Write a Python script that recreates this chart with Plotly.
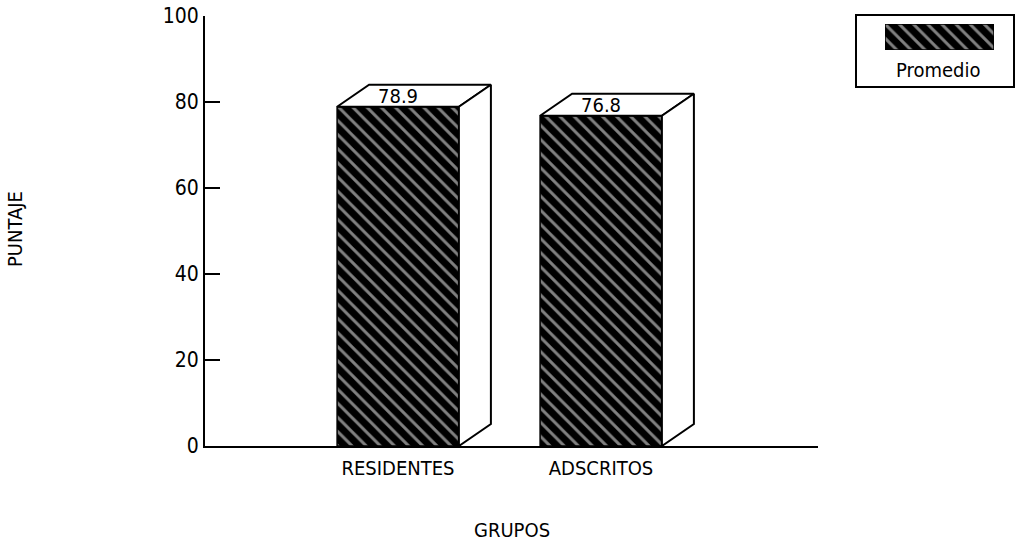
import plotly.graph_objects as go

# ---- data -------------------------------------------------------------
categories = ["RESIDENTES", "ADSCRITOS"]
promedio = [78.9, 76.8]
y_ticks = [0, 20, 40, 60, 80, 100]
series_name = "Promedio"

# ---- geometry (pixels of the 1026x542 page) ---------------------------
W, H = 1026, 542
plot_left, plot_right = 205, 818
plot_top, plot_bottom = 16, 446
first_center_px, step_px = 398, 203          # category spacing on screen
y_min, y_max = 0, 100

x_range = [(plot_left - first_center_px) / step_px,
           (plot_right - first_center_px) / step_px]
px_per_y = (plot_bottom - plot_top) / (y_max - y_min)

bar_w = 0.6
depth_x = 32 / step_px          # oblique depth of the 3-D boxes
depth_y = 22 / px_per_y

FONT = "DejaVu Sans Condensed, Liberation Sans Narrow, Arial Narrow, sans-serif"
hatch = dict(shape="\\", fgcolor="white", bgcolor="black", size=10, solidity=0.3)

xs = list(range(len(categories)))

fig = go.Figure()

# front faces
fig.add_trace(go.Bar(
    x=xs, y=promedio, width=bar_w, name=series_name,
    marker=dict(color="black", line=dict(color="black", width=1.5), pattern=hatch),
    showlegend=False, hoverinfo="skip",
))

# top and side faces of each box
for xc, v in zip(xs, promedio):
    l, r = xc - bar_w / 2, xc + bar_w / 2
    top_x = [l, l + depth_x, r + depth_x, r, l]
    top_y = [v, v + depth_y, v + depth_y, v, v]
    side_x = [r, r + depth_x, r + depth_x, r, r]
    side_y = [0, depth_y, v + depth_y, v, 0]
    for fx, fy in ((top_x, top_y), (side_x, side_y)):
        fig.add_trace(go.Scatter(
            x=fx, y=fy, mode="lines", fill="toself", fillcolor="white",
            line=dict(color="black", width=2), showlegend=False, hoverinfo="skip",
        ))
    fig.add_annotation(
        x=xc, y=v + depth_y / 2, text=f"{v:.1f}", showarrow=False,
        font=dict(family=FONT, size=20, color="black"),
        xanchor="center", yanchor="middle",
    )

# legend swatch drawn on a small inset axis
sw_left, sw_right, sw_top, sw_bottom = 885, 994, 24, 50
fig.add_trace(go.Bar(
    x=[0], y=[1], width=1, xaxis="x2", yaxis="y2",
    marker=dict(color="black", line=dict(color="black", width=1.5), pattern=hatch),
    showlegend=False, hoverinfo="skip",
))

axis_font = dict(family=FONT, size=21, color="black")

fig.update_layout(
    width=W, height=H,
    margin=dict(l=0, r=0, t=0, b=0),
    paper_bgcolor="white", plot_bgcolor="white",
    showlegend=False,
    xaxis=dict(
        domain=[plot_left / W, plot_right / W],
        range=x_range, tickvals=xs, ticktext=categories,
        showline=True, linecolor="black", linewidth=2,
        ticks="", showgrid=False, zeroline=False,
        tickfont=dict(family=FONT, size=20, color="black"),
        ticklabelstandoff=3, automargin=False,
    ),
    yaxis=dict(
        domain=[1 - plot_bottom / H, 1 - plot_top / H],
        range=[y_min, y_max], tickvals=y_ticks,
        showline=True, linecolor="black", linewidth=2,
        ticks="inside", ticklen=15, tickwidth=2, tickcolor="black",
        showgrid=False, zeroline=False,
        tickfont=axis_font, automargin=False,
    ),
    xaxis2=dict(domain=[sw_left / W, sw_right / W], range=[-0.5, 0.5],
                visible=False, anchor="y2", fixedrange=True),
    yaxis2=dict(domain=[1 - sw_bottom / H, 1 - sw_top / H], range=[0, 1],
                visible=False, anchor="x2", fixedrange=True),
    shapes=[dict(type="rect", xref="paper", yref="paper",
                 x0=856 / W, x1=1014 / W, y0=1 - 87 / H, y1=1 - 15 / H,
                 line=dict(color="black", width=2), fillcolor="rgba(0,0,0,0)")],
)

# axis titles and legend text
text_font = dict(family=FONT, size=20, color="black")
fig.add_annotation(xref="paper", yref="paper", x=938 / W, y=1 - 70 / H,
                   xanchor="center", yanchor="middle",
                   text=series_name, showarrow=False, font=text_font)
fig.add_annotation(xref="paper", yref="paper", x=(plot_left + plot_right) / 2 / W,
                   y=1 - 530 / H, xanchor="center", yanchor="middle",
                   text="GRUPOS", showarrow=False, font=text_font)
fig.add_annotation(xref="paper", yref="paper", x=15 / W, y=1 - 229 / H,
                   xanchor="center", yanchor="middle",
                   text="PUNTAJE", textangle=-90, showarrow=False, font=text_font)

fig.write_html("out.html")
